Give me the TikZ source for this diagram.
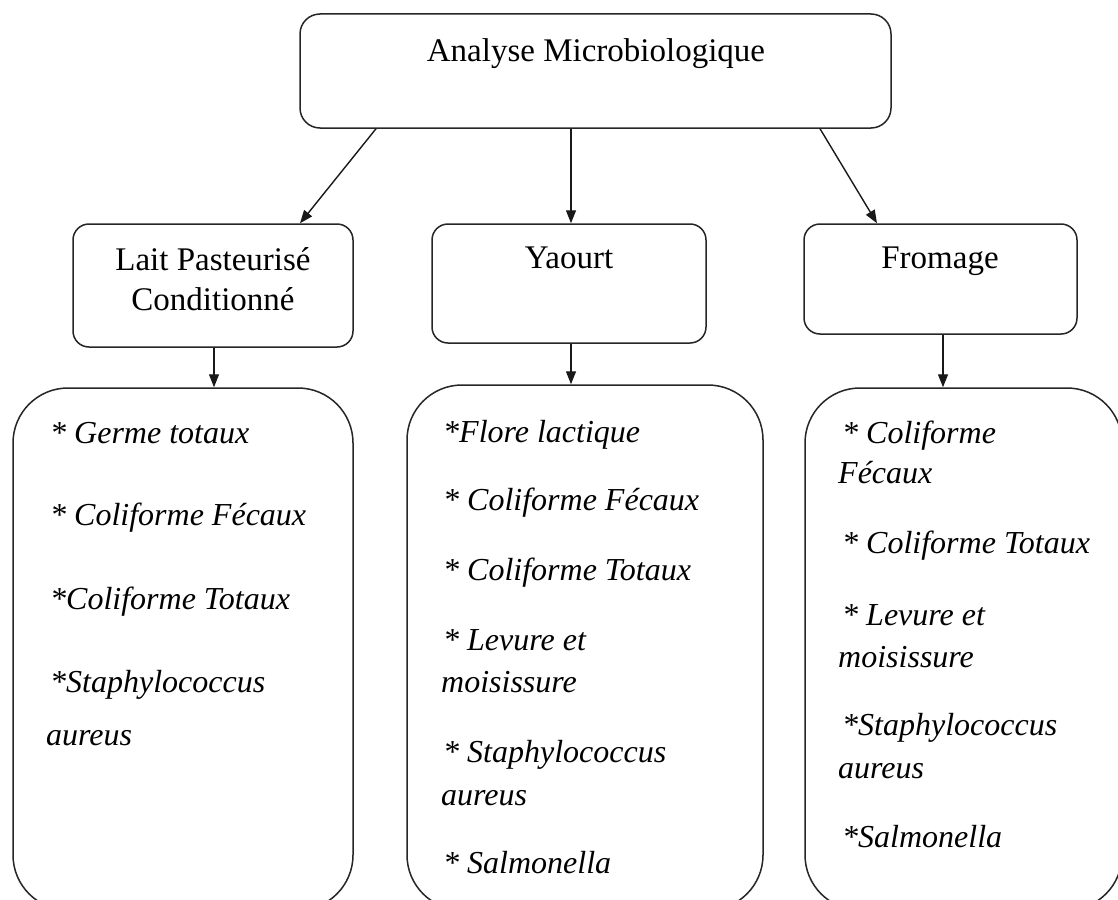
\documentclass[tikz,border=0pt]{standalone}
\usepackage{fontspec}
\setmainfont{Liberation Serif}
\usetikzlibrary{arrows.meta}
\begin{document}
\begin{tikzpicture}[x=1pt,y=-1pt,
  box/.style={draw=black!85, line width=1.5pt, rounded corners=#1, inner sep=0pt, fill=white},
  box/.default=16pt,
  arr/.style={draw=black!90, line width=1.4pt, -{Triangle[length=13pt,width=10pt]}},
  lbl/.style={inner sep=0pt, anchor=base, font=\fontsize{33}{40}\selectfont},
  itm/.style={inner sep=0pt, anchor=base west, font=\fontsize{32}{40}\selectfont\itshape}]
\useasboundingbox (0,0) rectangle (1118,899);
\fill[white] (0,0) rectangle (1118,899);
\clip (0,0) rectangle (1118,899);

% level boxes
\node[box=20pt, minimum width=591pt, minimum height=114pt] (top) at (595.5,71) {};
\node[box, minimum width=280pt, minimum height=123pt] (lait) at (213,285.5) {};
\node[box, minimum width=274pt, minimum height=119pt] (yaourt) at (569,283.5) {};
\node[box, minimum width=273pt, minimum height=110pt] (fromage) at (940.5,279) {};

% bottom boxes
\node[box=55pt, minimum width=340pt, minimum height=522pt] (bl) at (183,649) {};
\node[box=55pt, minimum width=356pt, minimum height=525pt] (bm) at (585,647.5) {};
\node[box=55pt, minimum width=317pt, minimum height=522pt] (br) at (963.5,649) {};

% labels
\node[lbl] (tTop) at (596,62) {Analyse Microbiologique};
\node[lbl] (tLait1) at (213,270) {Lait Pasteurisé};
\node[lbl] (tLait2) at (213,310) {Conditionné};
\node[lbl] (tYao) at (569,268) {Yaourt};
\node[lbl] (tFro) at (940,268) {Fromage};

% arrows
\draw[arr] ([xshift=-219.5pt]top.south) -- ([xshift=87pt]lait.north);
\draw[arr] ([xshift=-24.5pt]top.south) -- ([xshift=2pt]yaourt.north);
\draw[arr] ([xshift=224.5pt]top.south) -- ([xshift=-63.5pt]fromage.north);
\draw[arr] ([xshift=1pt]lait.south) -- ([xshift=31pt]bl.north);
\draw[arr] ([xshift=2pt]yaourt.south) -- ([xshift=-14pt]bm.north);
\draw[arr] ([xshift=2.5pt]fromage.south) -- ([xshift=-20.5pt]br.north);

% left items
\node[itm] (l1) at (50,443) {* Germe totaux};
\node[itm] (l2) at (50,525) {* Coliforme Fécaux};
\node[itm] (l3) at (50,609) {*Coliforme Totaux};
\node[itm] (l4) at (50,692) {*Staphylococcus};
\node[itm] (l5) at (46,745) {aureus};

% middle items
\node[itm] (m1) at (443,442) {*Flore lactique};
\node[itm] (m2) at (443,510) {* Coliforme Fécaux};
\node[itm] (m3) at (443,580) {* Coliforme Totaux};
\node[itm] (m4) at (443,650) {* Levure et};
\node[itm] (m5) at (441,692) {moisissure};
\node[itm] (m6) at (443,762) {* Staphylococcus};
\node[itm] (m7) at (441,805) {aureus};
\node[itm] (m8) at (443,873) {* Salmonella};

% right items
\node[itm] (r1) at (842,443) {* Coliforme};
\node[itm] (r2) at (838,483) {Fécaux};
\node[itm] (r3) at (842,553) {* Coliforme Totaux};
\node[itm] (r4) at (842,625) {* Levure et};
\node[itm] (r5) at (838,667) {moisissure};
\node[itm] (r6) at (842,735) {*Staphylococcus};
\node[itm] (r7) at (838,778) {aureus};
\node[itm] (r8) at (842,847) {*Salmonella};
\end{tikzpicture}
\end{document}
